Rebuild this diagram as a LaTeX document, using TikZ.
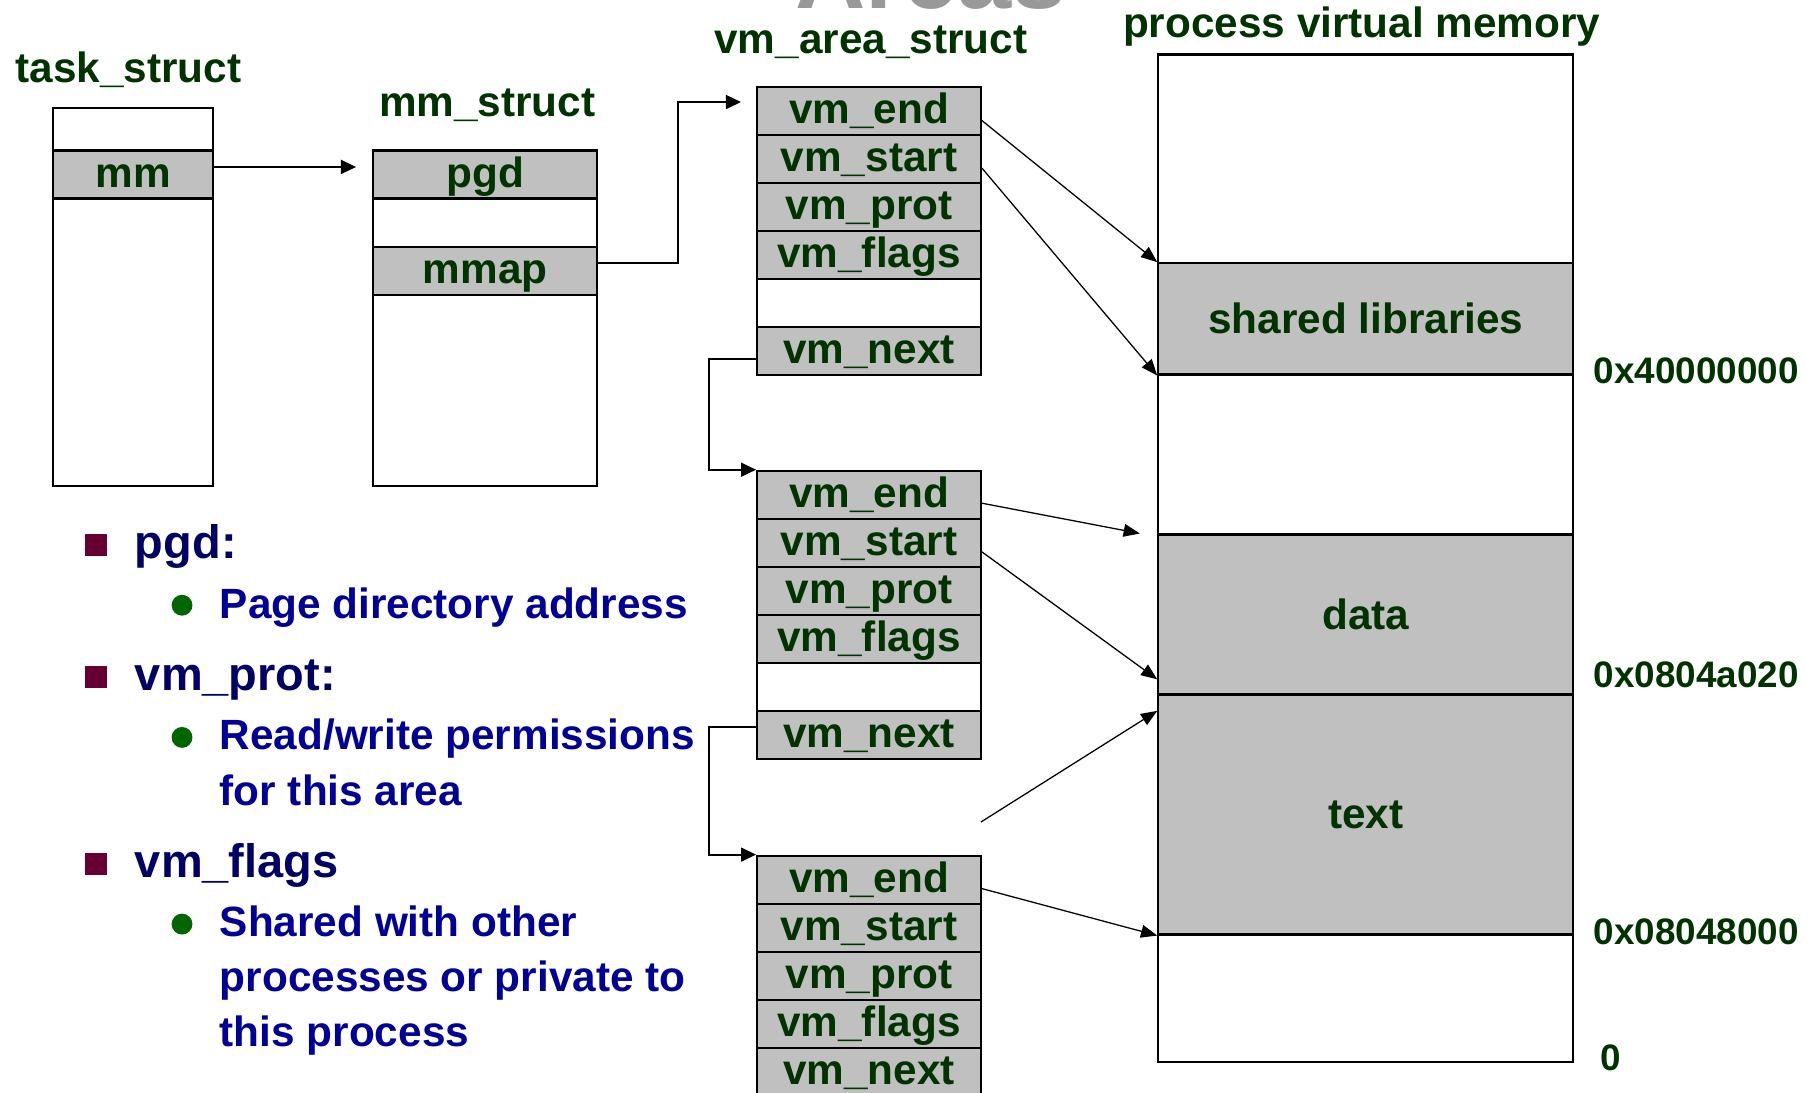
\documentclass[tikz,border=0pt]{standalone}
\usepackage{fontspec}
\setmainfont{Liberation Sans}
\usetikzlibrary{arrows.meta,calc}
\definecolor{lblgreen}{RGB}{0,51,0}
\definecolor{cellgray}{RGB}{192,192,192}
\definecolor{headnavy}{RGB}{0,0,102}
\definecolor{subblue}{RGB}{0,0,153}
\definecolor{bulmaroon}{RGB}{102,0,51}
\definecolor{bulgreen}{RGB}{0,102,0}
\definecolor{shadowgray}{RGB}{153,153,153}
\tikzset{
  lbl/.style={font=\bfseries\fontsize{36.5}{44}\selectfont, text=lblgreen, inner sep=0pt},
  addr/.style={font=\bfseries\fontsize{31.8}{38}\selectfont, text=lblgreen, inner sep=0pt, anchor=base west},
  outerbox/.style={draw, line width=1.8pt, fill=white, inner sep=0pt},
  cellbox/.style={lbl, draw, line width=1.8pt, fill=cellgray, minimum width=193pt, minimum height=41.4pt, text height=28pt, text depth=6pt},
  whitecell/.style={cellbox, fill=white},
  memsec/.style={lbl, draw, line width=1.8pt, fill=cellgray, minimum width=358pt},
  elbow/.style={line width=1.7pt, -{Triangle[length=13pt,width=12pt]}},
  diag/.style={line width=1.1pt, -{Triangle[length=14pt,width=11pt]}},
  head/.style={font=\bfseries\fontsize{40.5}{48}\selectfont, text=headnavy, inner sep=0pt, anchor=base west},
  sub/.style={font=\bfseries\fontsize{36.5}{44}\selectfont, text=subblue, inner sep=0pt, anchor=base west},
  sqbullet/.style={fill=bulmaroon, minimum size=19pt, inner sep=0pt},
  rdbullet/.style={circle, fill=bulgreen, minimum size=18pt, inner sep=0pt},
  titletext/.style={font=\bfseries\fontsize{84}{90}\selectfont, inner sep=0pt, anchor=base west},
}
\begin{document}
\begin{tikzpicture}[x=1pt,y=-1pt]
\useasboundingbox (0,0) rectangle (1568,942);
\clip (0,0) rectangle (1568,942);
\fill[white] (0,0) rectangle (1568,942);

% clipped slide title (only its lower edge shows)
\node[titletext, text=shadowgray] (title) at (686,7.3) {Areas};

% column titles
\node[lbl, anchor=base west] (ttask) at (13.3,71.5) {task\_struct};
\node[lbl, anchor=base west] (tmm) at (326.7,100.1) {mm\_struct};
\node[lbl, anchor=base west] (tvma) at (616,45.8) {vm\_area\_struct};
\node[lbl, anchor=base west] (tpvm) at (968.4,32.3) {process virtual memory};

% task_struct
\node[outerbox, minimum width=138pt, minimum height=326pt] (taskbox) at (115,256) {};
\node[cellbox, minimum width=138pt] (mm) at (115,150.5) {mm};

% mm_struct
\node[outerbox, minimum width=193pt, minimum height=289pt] (mmbox) at (418.5,274.5) {};
\node[cellbox] (pgd) at (418.5,150.5) {pgd};
\node[cellbox] (mmap) at (418.5,233.5) {mmap};

% vm_area_struct 1
\node[cellbox] (vAend) at (749.5,95.7) {vm\_end};
\node[cellbox] (vAstart) at (749.5,137.1) {vm\_start};
\node[cellbox] (vAprot) at (749.5,178.5) {vm\_prot};
\node[cellbox] (vAflags) at (749.5,219.9) {vm\_flags};
\node[whitecell] (vAblank) at (749.5,261.3) {};
\node[cellbox] (vAnext) at (749.5,302.7) {vm\_next};

% vm_area_struct 2
\node[cellbox] (vBend) at (749.5,426.7) {vm\_end};
\node[cellbox] (vBstart) at (749.5,468.1) {vm\_start};
\node[cellbox] (vBprot) at (749.5,509.5) {vm\_prot};
\node[cellbox] (vBflags) at (749.5,550.9) {vm\_flags};
\node[whitecell] (vBblank) at (749.5,592.3) {};
\node[cellbox] (vBnext) at (749.5,633.7) {vm\_next};

% vm_area_struct 3
\node[cellbox] (vCend) at (749.5,758.7) {vm\_end};
\node[cellbox] (vCstart) at (749.5,800.1) {vm\_start};
\node[cellbox] (vCprot) at (749.5,841.5) {vm\_prot};
\node[cellbox] (vCflags) at (749.5,882.9) {vm\_flags};
\node[cellbox] (vCnext) at (749.5,924.3) {vm\_next};

% process virtual memory
\node[outerbox, minimum width=358pt, minimum height=869pt] (pvm) at (1178,481.5) {};
\node[memsec, minimum height=96pt] (shlib) at (1178,275) {shared libraries};
\node[memsec, minimum height=138pt] (data) at (1178,530) {data};
\node[memsec, minimum height=207pt] (text) at (1178,702.5) {text};

% addresses
\node[addr] (a1) at (1374.3,331.1) {0x40000000};
\node[addr] (a2) at (1374.3,593) {0x0804a020};
\node[addr] (a3) at (1374.3,814.7) {0x08048000};
\node[addr] (a4) at (1380.5,923.1) {0};

% pointer connectors
\draw[elbow, shorten >=14pt] ([yshift=6.5pt]mm.east) -- ([yshift=6.5pt]mm.east -| pgd.west);
\draw[elbow, shorten >=13pt] ([yshift=6.5pt]mmap.east) -- ++(69,0) |- ([yshift=7.7pt]vAend.west);
\draw[elbow] ([yshift=-7.3pt]vAnext.west) -- ++(-41,0) |- (vBend.north west);
\draw[elbow] ([yshift=6.7pt]vBnext.west) -- ++(-41,0) |- (vCend.north west);

% area connectors
\coordinate (freeend) at (846,709);
\draw[diag] ([yshift=-8.3pt]vAend.east) -- (shlib.north west);
\draw[diag] ([yshift=-7.9pt]vAstart.east) -- (shlib.south west);
\draw[diag] ([yshift=-7.3pt]vBend.east) -- ([xshift=-15pt]data.north west);
\draw[diag] ([yshift=-7.9pt]vBstart.east) -- ([yshift=14pt]data.south west);
\draw[diag] (freeend) -- ([yshift=-15pt]text.north west);
\draw[diag] ([yshift=-7.7pt]vCend.east) -- (text.south west);

% bullet list
\node[sqbullet] (bq1) at (82.6,470.4) {};
\node[head] (h1) at (116.2,481.7) {pgd:};
\node[rdbullet] (bc1) at (157,522) {};
\node[sub] (s1) at (189.4,533.8) {Page directory address};

\node[sqbullet] (bq2) at (82.6,583.8) {};
\node[head] (h2) at (116.2,595.6) {vm\_prot:};
\node[rdbullet] (bc2) at (157,636) {};
\node[sub] (s2a) at (189.4,646.8) {Read/write permissions};
\node[sub] (s2b) at (189.4,694.3) {for this area};

\node[sqbullet] (bq3) at (82.6,745) {};
\node[head] (h3) at (116.2,756.9) {vm\_flags};
\node[rdbullet] (bc3) at (157,797) {};
\node[sub] (s3a) at (189.4,808) {Shared with other};
\node[sub] (s3b) at (189.4,855.5) {processes or private to};
\node[sub] (s3c) at (189.4,902.4) {this process};
\end{tikzpicture}
\end{document}
